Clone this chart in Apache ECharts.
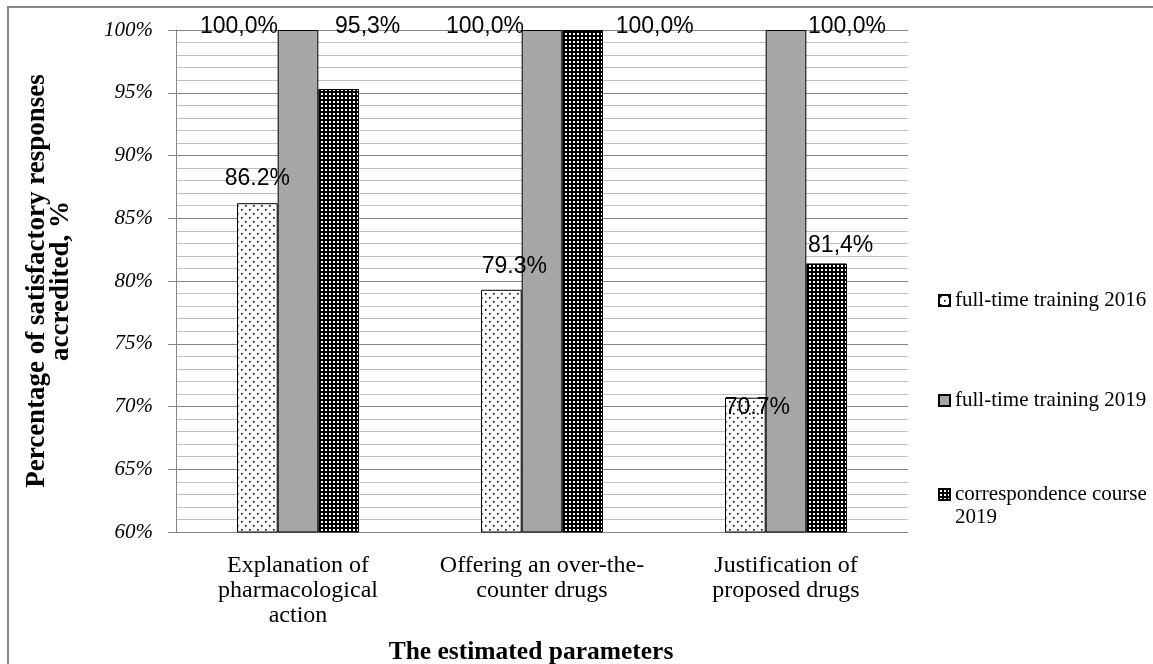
<!DOCTYPE html>
<html><head><meta charset="utf-8">
<script src="https://cdn.jsdelivr.net/npm/echarts@6/dist/echarts.min.js"></script>
<style>html,body{margin:0;padding:0;background:#fff}#c{width:1153px;height:664px}</style>
</head><body><div id="c"></div>
<script>
// ---- data ----
const categories = ['Explanation of\npharmacological\naction', 'Offering an over-the-\ncounter drugs', 'Justification of\nproposed drugs'];
const seriesNames = ['full-time training 2016', 'full-time training 2019', 'correspondence course\n2019'];
const ft2016 = [86.2, 79.3, 70.7];
const ft2019 = [100.0, 100.0, 100.0];
const corr2019 = [95.3, 100.0, 81.4];
const decimalSep = ['.', ',', ','];
const yTicks = [60, 65, 70, 75, 80, 85, 90, 95, 100];

// ---- layout for data labels (manually placed as in the source) ----
const labelOffsets = [
  [[0, -13.5], [13, -11.5], [12, 21]],
  [[-59, 8], [-57, 8], [61, 8]],
  [[29, -51], [72, 8], [14, -6.5]]
];

function pat(draw, w, h) {
  const c = document.createElement('canvas'); c.width = w; c.height = h;
  const g = c.getContext('2d'); draw(g); return c;
}
const dotPattern = pat(g => { g.fillStyle = '#fff'; g.fillRect(0,0,8,8); g.fillStyle = '#000'; g.fillRect(1,1,1.6,1.6); g.fillRect(5,5,1.6,1.6); }, 8, 8);
const densePattern = pat(g => { g.fillStyle = '#000'; g.fillRect(0,0,4,4); g.fillStyle = '#fff'; g.fillRect(1,1,2,2); }, 4, 4);
const fills = [
  { image: dotPattern, repeat: 'repeat' },
  '#a6a6a6',
  { image: densePattern, repeat: 'repeat' }
];
const allValues = [ft2016, ft2019, corr2019];

const chart = echarts.init(document.getElementById('c'), null, { renderer: 'canvas' });
const series = allValues.map((vals, si) => ({
  name: seriesNames[si],
  type: 'bar',
  barGap: '0%',
  barCategoryGap: '50%',
  itemStyle: { color: fills[si], borderColor: '#000', borderWidth: 1 },
  label: {
    show: true, position: 'top', distance: 0,
    fontFamily: 'Liberation Sans', fontSize: 23, color: '#000',
    formatter: p => p.value.toFixed(1).replace('.', decimalSep[si]) + '%'
  },
  emphasis: { disabled: true },
  data: vals.map((v, ci) => ({ value: v, label: { offset: labelOffsets[si][ci] } }))
}));

const legendTops = [284, 384, 455];
const legends = seriesNames.map((n, i) => {
  const lines = n.split('\n');
  return {
    data: [n],
    left: 933, top: legendTops[i],
    orient: 'vertical',
    itemWidth: 11, itemHeight: 11, itemGap: 4,
    icon: 'rect',
    formatter: lines.length > 1
      ? () => '{s| }\n' + lines.map(l => '{a|' + l + '}').join('\n')
      : '{name}',
    textStyle: {
      fontFamily: 'Liberation Serif', fontSize: 21, color: '#000', lineHeight: 23,
      rich: {
        s: { fontSize: 21, lineHeight: 23, fontFamily: 'Liberation Serif' },
        a: { fontSize: 21, lineHeight: 23, fontFamily: 'Liberation Serif', color: '#000' }
      }
    },
    selectedMode: false
  };
});

chart.setOption({
  animation: false,
  backgroundColor: '#fff',
  graphic: [{ type: 'rect', shape: { x: 8, y: 7, width: 1200, height: 700 }, style: { fill: 'none', stroke: '#888', lineWidth: 2 }, silent: true }],
  grid: { left: 176, right: 245, top: 30, bottom: 132, containLabel: false, outerBoundsMode: 'none' },
  legend: legends,
  xAxis: {
    type: 'category', data: categories,
    axisLine: { lineStyle: { color: '#868686' } },
    axisTick: { show: false },
    axisLabel: { interval: 0, hideOverlap: false, fontFamily: 'Liberation Serif', fontSize: 24, color: '#000', lineHeight: 25, margin: 21 },
    name: 'The estimated parameters', nameLocation: 'middle', nameGap: 107,
    nameTextStyle: { fontFamily: 'Liberation Serif', fontWeight: 'bold', fontSize: 25.5, color: '#000', padding: [0, 22, 0, 0] }
  },
  yAxis: {
    type: 'value', min: yTicks[0], max: yTicks[yTicks.length - 1], interval: yTicks[1] - yTicks[0],
    axisLine: { show: true, lineStyle: { color: '#868686' } },
    axisTick: { show: true, length: 8, lineStyle: { color: '#868686' } },
    axisLabel: { fontFamily: 'Liberation Serif', fontStyle: 'italic', fontSize: 21, color: '#000', margin: 23, formatter: '{value}%' },
    splitLine: { show: true, lineStyle: { color: '#868686', width: 1 } },
    minorTick: { show: false, splitNumber: 5 },
    minorSplitLine: { show: true, lineStyle: { color: '#c0c0c0', width: 1 } },
    name: 'Percentage of satisfactory responses\naccredited, %', nameLocation: 'middle', nameGap: 103,
    nameTextStyle: { fontFamily: 'Liberation Serif', fontWeight: 'bold', fontSize: 27, color: '#000', lineHeight: 24 }
  },
  series: series
});
</script></body></html>
